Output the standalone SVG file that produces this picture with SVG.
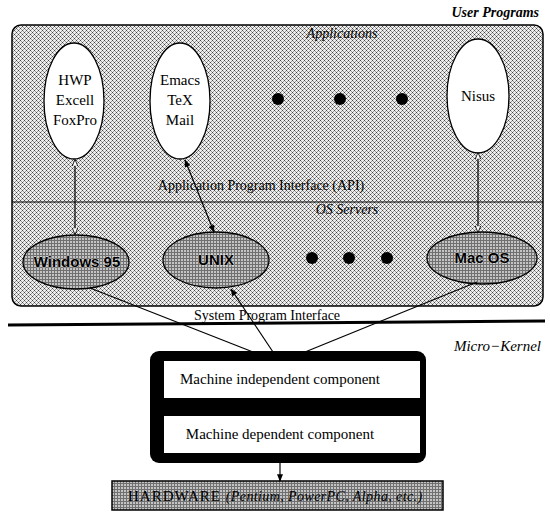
<svg xmlns="http://www.w3.org/2000/svg" width="550" height="527" viewBox="0 0 550 527">
<defs>
<pattern id="stip" width="4" height="4" patternUnits="userSpaceOnUse">
<rect width="4" height="4" fill="#eeeeee"/>
<rect x="0" y="0" width="1" height="1" fill="#444"/>
<rect x="2" y="2" width="1" height="1" fill="#444"/>
<rect x="1" y="1" width="1" height="1" fill="#999"/>
<rect x="3" y="3" width="1" height="1" fill="#999"/>
<rect x="3" y="1" width="1" height="1" fill="#999"/>
<rect x="1" y="3" width="1" height="1" fill="#999"/>
</pattern>
<pattern id="grid" width="3" height="3" patternUnits="userSpaceOnUse">
<rect width="3" height="3" fill="#c4c4c4"/>
<rect x="0" y="0" width="3" height="1" fill="#707070"/>
<rect x="0" y="0" width="1" height="3" fill="#707070"/>
</pattern>
<marker id="hollow" viewBox="0 0 10 8" refX="9" refY="4" markerWidth="7" markerHeight="6" markerUnits="userSpaceOnUse" orient="auto-start-reverse">
<path d="M0,0 L10,4 L0,8 z" fill="#fff" stroke="#000" stroke-width="1.2"/>
</marker>
<marker id="solid" viewBox="0 0 10 8" refX="9" refY="4" markerWidth="10" markerHeight="6" markerUnits="userSpaceOnUse" orient="auto-start-reverse">
<path d="M0,0 L10,4 L0,8 z" fill="#000"/>
</marker>
</defs>
<style>
.serif{font-family:"Liberation Serif","Times New Roman",serif;fill:#000}
.it{font-style:italic}
.lbl{font-size:15px;text-anchor:middle}
.os{font-family:"Liberation Sans",Arial,sans-serif;font-weight:bold;font-size:15px;text-anchor:middle;fill:#000;stroke:#fff;stroke-width:0.6;paint-order:stroke}
.app{fill:#fff;stroke:#000;stroke-width:1.3}
.osell{fill:url(#grid);stroke:#000;stroke-width:1.3}
.con{stroke:#000;stroke-width:1.2;fill:none}
.dot{fill:#000}
</style>

<text class="serif it" x="539" y="17" font-size="14" font-weight="bold" text-anchor="end">User Programs</text>

<g id="user-space">
<rect x="12" y="25" width="531" height="281" rx="9" fill="url(#stip)" stroke="#000" stroke-width="1.5"/>
<line x1="12" y1="202" x2="543" y2="202" stroke="#000" stroke-width="1"/>
<text class="serif it" x="342" y="38" font-size="14" text-anchor="middle">Applications</text>
<text class="serif it" x="347" y="214" font-size="14" text-anchor="middle">OS Servers</text>
<text class="serif" x="261" y="190" font-size="14" text-anchor="middle">Application Program Interface (API)</text>
</g>

<g id="app-hwp">
<ellipse class="app" cx="74" cy="101" rx="30" ry="58"/>
<text class="serif lbl" x="75" y="85">HWP</text>
<text class="serif lbl" x="75" y="105">Excell</text>
<text class="serif lbl" x="75" y="125">FoxPro</text>
</g>
<g id="app-emacs">
<ellipse class="app" cx="180" cy="101" rx="30" ry="58"/>
<text class="serif lbl" x="180" y="85">Emacs</text>
<text class="serif lbl" x="180" y="105">TeX</text>
<text class="serif lbl" x="180" y="125">Mail</text>
</g>
<g id="app-dots">
<circle class="dot" cx="278" cy="99" r="6"/>
<circle class="dot" cx="340" cy="99" r="6"/>
<circle class="dot" cx="402" cy="99" r="6"/>
</g>
<g id="app-nisus">
<ellipse class="app" cx="478" cy="96" rx="31" ry="57"/>
<text class="serif lbl" x="478" y="101">Nisus</text>
</g>

<g id="os-windows">
<ellipse class="osell" cx="76" cy="262" rx="53" ry="27"/>
<text class="os" x="77" y="267">Windows 95</text>
</g>
<g id="os-unix">
<ellipse class="osell" cx="216" cy="260" rx="53" ry="28"/>
<text class="os" x="216" y="265">UNIX</text>
</g>
<g id="os-dots">
<circle class="dot" cx="312" cy="258" r="6"/>
<circle class="dot" cx="349" cy="258" r="6"/>
<circle class="dot" cx="387" cy="258" r="6"/>
</g>
<g id="os-macos">
<ellipse class="osell" cx="482" cy="258" rx="55" ry="26"/>
<text class="os" x="482" y="263">Mac OS</text>
</g>

<g id="spi">
<text class="serif" x="267" y="320" font-size="14" text-anchor="middle">System Program Interface</text>
<line x1="8" y1="325" x2="545" y2="321" stroke="#000" stroke-width="3"/>
</g>

<g id="micro-kernel">
<rect x="150" y="351" width="276" height="112" rx="9" fill="#000"/>
<rect x="164" y="361" width="256" height="37" fill="#fff"/>
<rect x="164" y="416" width="256" height="37" fill="#fff"/>
<text class="serif" x="280" y="384" font-size="15" text-anchor="middle">Machine independent component</text>
<text class="serif" x="280" y="439" font-size="15" text-anchor="middle">Machine dependent component</text>
<text class="serif it" x="541" y="351" font-size="15" text-anchor="end">Micro−Kernel</text>
</g>

<g id="hardware">
<rect x="112" y="481" width="331" height="29" fill="url(#grid)" stroke="#000" stroke-width="1.5"/>
<text class="serif" x="128" y="501" font-size="15" letter-spacing="1">HARDWARE <tspan font-style="italic" font-size="14" letter-spacing="0.4">  (Pentium, PowerPC, Alpha, etc.)</tspan></text>
</g>

<g id="connectors">
<line class="con" x1="75" y1="160" x2="75" y2="234" marker-start="url(#hollow)" marker-end="url(#hollow)"/>
<line class="con" x1="185" y1="160" x2="214" y2="232" marker-start="url(#solid)" marker-end="url(#solid)"/>
<line class="con" x1="478" y1="153" x2="478" y2="232" marker-start="url(#hollow)" marker-end="url(#hollow)"/>
<line class="con" x1="253" y1="352" x2="90" y2="288"/>
<line class="con" x1="273" y1="352" x2="231" y2="289" marker-end="url(#solid)"/>
<line class="con" x1="305" y1="352" x2="477" y2="282"/>
<line class="con" x1="280" y1="463" x2="280" y2="481" marker-end="url(#solid)"/>
</g>
</svg>
